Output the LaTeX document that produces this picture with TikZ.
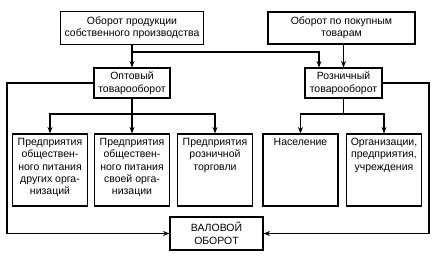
\documentclass[tikz,border=0pt]{standalone}
\usepackage{fontspec}
\setmainfont{Liberation Sans}
\usetikzlibrary{arrows.meta,positioning}
\tikzset{
  box/.style={draw,line width=1.1pt,align=center,inner sep=1pt,font=\fontsize{10.5}{12.4}\selectfont},
  cell/.style={box,minimum width=75pt,minimum height=72pt,inner sep=0pt},
  arr/.style={-{Stealth[length=6.5pt,width=5pt]},line width=1.1pt},
}
\newcommand{\celltext}[1]{\parbox[t][64pt][t]{74pt}{\centering #1}}

\begin{document}
\begin{tikzpicture}[x=1pt,y=-1pt]
\useasboundingbox (0,0) rectangle (440,265);
\node[box,minimum width=143pt,minimum height=33pt] (own) at (132,28) {Оборот продукции\\собственного производства};
\node[box,minimum width=147pt,minimum height=32pt] (buy) at (341.5,28) {Оборот по покупным\\товарам};
\node[box,minimum width=76pt,minimum height=30pt] (opt) at (132,83) {Оптовый\\товарооборот};
\node[box,minimum width=77pt,minimum height=30pt] (rozn) at (343.5,83) {Розничный\\товарооборот};
% нижний ряд
\node[cell] (b1) at (50,170) {\celltext{Предприятия\\обществен-\\ного питания\\других орга-\\низаций}};
\node[cell] (b2) at (132,170) {\celltext{Предприятия\\обществен-\\ного питания\\своей орга-\\низации}};
\node[cell] (b3) at (215,170) {\celltext{Предприятия\\розничной\\торговли}};
\node[cell] (b4) at (300.5,170) {\celltext{Население}};
\node[cell] (b5) at (384,170) {\celltext{Организации,\\предприятия,\\учреждения}};
\node[box,minimum width=93pt,minimum height=33pt] (val) at (216.5,233.5) {ВАЛОВОЙ\\ОБОРОТ};
\coordinate (split) at (132,52);
\coordinate (busL) at (132,114);
\coordinate (busR) at (343.5,114);
\draw[arr] (own) -- (opt);
\draw[arr] (split) -| ([xshift=-24.5pt]rozn.north);
\draw[arr] (buy.south -| rozn.north) -- (rozn);
\draw[arr] (opt) -- (b2);
\draw[arr] (busL) -| (b1);
\draw[arr] (busL) -| (b3);
\draw[line width=1.1pt] (rozn) -- (busR);
\draw[arr] (busR) -| (b4);
\draw[arr] (busR) -| (b5);
\draw[arr] (opt.west) -| (7,233.5) -- (val.west);
\draw[arr] (rozn.east) -| (429,233.5) -- (val.east);
\end{tikzpicture}
\end{document}
